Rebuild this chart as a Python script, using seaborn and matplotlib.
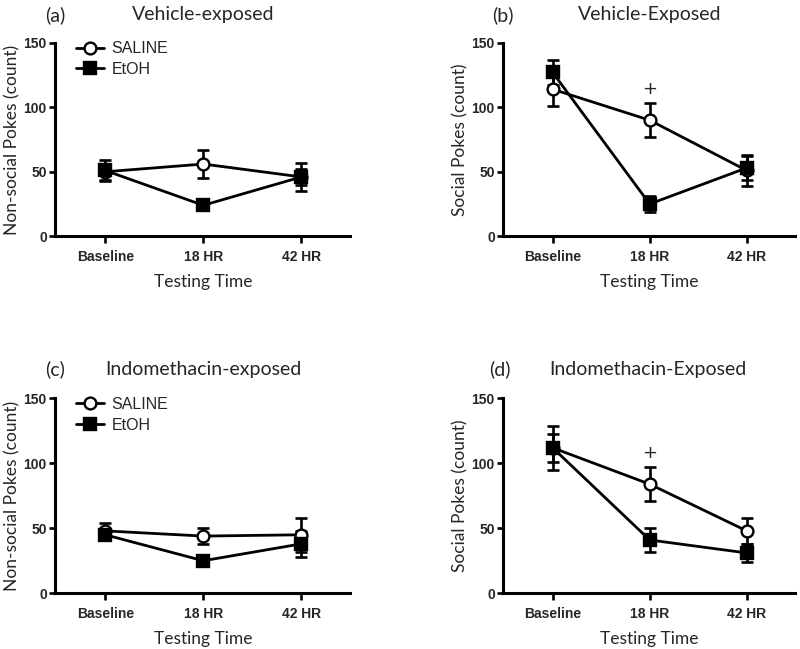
import matplotlib
matplotlib.use("Agg")
import matplotlib.pyplot as plt
import seaborn as sns
import pandas as pd

# time points
times = ["Baseline", "18 HR", "42 HR"]
groups = ["SALINE", "EtOH"]

# (a) vehicle-exposed, non-social pokes
a_saline = [50, 56, 46]
a_saline_err = [6, 11, 11]
a_etoh = [51, 24, 46]
a_etoh_err = [8, 4, 6]

# (b) vehicle-exposed, social pokes
b_saline = [114, 90, 51]
b_saline_err = [13, 13, 12]
b_etoh = [127, 25, 53]
b_etoh_err = [10, 6, 9]

# (c) indomethacin-exposed, non-social pokes
c_saline = [48, 44, 45]
c_saline_err = [6, 6, 13]
c_etoh = [45, 25, 38]
c_etoh_err = [4, 3, 10]

# (d) indomethacin-exposed, social pokes
d_saline = [112, 84, 48]
d_saline_err = [17, 13, 10]
d_etoh = [112, 41, 31]
d_etoh_err = [11, 9, 7]

panels = [
    ("(a)", "Vehicle-exposed", "Non-social Pokes (count)", a_saline, a_saline_err, a_etoh, a_etoh_err, True, False),
    ("(b)", "Vehicle-Exposed", "Social Pokes (count)", b_saline, b_saline_err, b_etoh, b_etoh_err, False, True),
    ("(c)", "Indomethacin-exposed", "Non-social Pokes (count)", c_saline, c_saline_err, c_etoh, c_etoh_err, True, False),
    ("(d)", "Indomethacin-Exposed", "Social Pokes (count)", d_saline, d_saline_err, d_etoh, d_etoh_err, False, True),
]

sns.set_theme(style="ticks")
plt.rcParams["font.family"] = ["Lato", "DejaVu Sans"]

fig = plt.figure(figsize=(8, 6.49), dpi=100)

# axes rectangles in figure fraction
rects = [
    [0.069, 0.636, 0.369, 0.298],
    [0.629, 0.636, 0.365, 0.298],
    [0.069, 0.086, 0.369, 0.300],
    [0.629, 0.086, 0.365, 0.300],
]
# title positions (letter x, title x, y) in figure fraction
title_pos = [
    (0.069, 0.254, 0.977),
    (0.628, 0.812, 0.977),
    (0.069, 0.254, 0.431),
    (0.625, 0.810, 0.431),
]

styles = {
    "SALINE": dict(marker="o", markerfacecolor="white"),
    "EtOH": dict(marker="s", markerfacecolor="black"),
}

for (tag, title, ylabel, sal, sal_e, eto, eto_e, show_leg, plus), rect, tp in zip(panels, rects, title_pos):
    ax = fig.add_axes(rect)
    df = pd.DataFrame({
        "x": list(range(3)) * 2,
        "y": sal + eto,
        "err": sal_e + eto_e,
        "group": ["SALINE"] * 3 + ["EtOH"] * 3,
    })
    for g in groups:
        sub = df[df["group"] == g]
        ax.errorbar(sub["x"], sub["y"], yerr=sub["err"], fmt="none", ecolor="black",
                    elinewidth=1.9, capsize=4, capthick=1.9, zorder=2)
        sns.lineplot(data=sub, x="x", y="y", ax=ax, color="black", lw=2.0,
                     marker=styles[g]["marker"], markersize=8.5,
                     markerfacecolor=styles[g]["markerfacecolor"],
                     markeredgecolor="black", markeredgewidth=1.7,
                     label=g, zorder=3)
    if plus:
        ax.text(1, sal[1] + sal_e[1] + 4, "+", ha="center", va="bottom", fontsize=13,
                family="DejaVu Sans")
    ax.set_xlim(-0.51, 2.5)
    ax.set_ylim(0, 150)
    ax.set_yticks([0, 50, 100, 150])
    ax.set_xticks(range(3))
    ax.set_xticklabels(times)
    for lab in ax.get_xticklabels() + ax.get_yticklabels():
        lab.set_fontweight("bold")
        lab.set_fontsize(10)
        lab.set_family("Liberation Sans")
    ax.tick_params(width=1.9, length=4, color="black", pad=2)
    ax.tick_params(axis="x", length=5, pad=5)
    for s in ["left", "bottom"]:
        ax.spines[s].set_linewidth(2.2)
        ax.spines[s].set_color("black")
    sns.despine(ax=ax)
    ax.set_xlabel("Testing Time", fontsize=12.5, labelpad=7)
    ax.set_ylabel(ylabel, fontsize=12.5, labelpad=2)
    if show_leg:
        leg = ax.legend(loc="upper left", frameon=False, fontsize=11.5, handlelength=1.7,
                        handletextpad=0.5, borderaxespad=0.0, labelspacing=0.35,
                        bbox_to_anchor=(0.05, 1.04))
        for t in leg.get_texts():
            t.set_family("Liberation Sans")
    else:
        ax.get_legend().remove()
    fig.text(tp[0], tp[2], tag, ha="center", va="center", fontsize=14)
    fig.text(tp[1], tp[2], title, ha="center", va="center", fontsize=14)

fig.savefig("out.png", dpi=100)
